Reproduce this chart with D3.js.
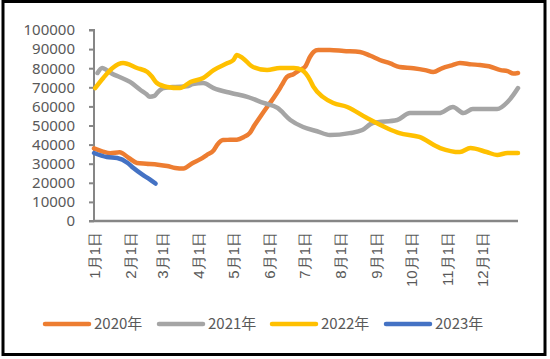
<!DOCTYPE html>
<html><head><meta charset="utf-8">
<script src="https://cdn.jsdelivr.net/npm/d3@7/dist/d3.min.js"></script>
<style>
html,body{margin:0;padding:0;background:#fff;}
svg{display:block;font-family:"Noto Sans CJK SC","Noto Sans",sans-serif;}
</style></head>
<body><svg id="c" width="550" height="359"></svg>
<script>
// Tick labels
const monthLabels = ["1月1日","2月1日","3月1日","4月1日","5月1日","6月1日","7月1日","8月1日","9月1日","10月1日","11月1日","12月1日"];
const monthStartDays = [0,31,59,90,120,151,181,212,243,273,304,334];
const yTicks = [0,10000,20000,30000,40000,50000,60000,70000,80000,90000,100000];
const seriesNames = ["2020年","2021年","2022年","2023年"];
const seriesColors = ["#ED7D31","#A5A5A5","#FFC000","#4472C4"];

// Series: day of year and value
const days2020 = [0,7,14,22,30,37,45,55,63,70,77,85,92,97,103,106,111,117,123,129,134,138,143,149,153,158,162,166,172,177,182,186,189,193,203,215,229,238,246,255,263,275,285,292,300,308,315,325,332,340,350,356,361,365];
const vals2020 = [38000,36500,35500,36000,33000,30400,30000,29500,28800,27800,27500,30400,32500,34500,37000,39800,42400,42500,42600,44000,46000,50000,54500,59700,63000,67500,71500,75400,77000,79000,81000,86000,88500,89500,89500,89000,88500,86500,84300,82500,80600,80000,79000,78000,80100,81500,82700,82000,81700,81000,79000,78500,77200,77500];

const days2021 = [3,7,11,16,22,31,40,45,48,52,55,60,70,80,85,94,103,118,132,146,158,169,180,192,203,220,231,240,261,272,297,309,318,326,339,347,356,361,365];
const vals2021 = [77500,80100,79000,77000,75400,72800,68600,66500,65000,65500,67500,69600,70200,70500,71700,72300,69600,67000,65000,61800,59200,52900,49200,47000,45000,46000,47600,51300,52900,56500,56500,59700,56500,58600,58600,58600,62300,66000,69600];

const days2022 = [1,8,16,25,37,46,50,54,63,74,83,94,103,115,120,123,128,137,149,160,172,179,186,189,197,206,218,235,252,263,280,298,315,324,338,347,356,365];
const vals2022 = [69600,74900,80100,82700,80100,78000,75500,72300,70200,69600,72800,74900,79000,82700,84300,86900,85300,80600,79000,80100,80100,79000,73800,70200,65000,61800,59700,53900,48700,46000,44000,38200,36100,38200,36100,34600,35600,35600];

const days2023 = [0,11,20,29,34,42,48,53];
const vals2023 = [35600,33500,33000,30400,27700,24100,21800,19600];

const allDays = [days2020,days2021,days2022,days2023];
const allVals = [vals2020,vals2021,vals2022,vals2023];

const svg = d3.select("#c");
const textColor = "#595959";
const axisColor = "#868686";

// frame
svg.append("rect").attr("x",3).attr("y",1.5).attr("width",542).attr("height",353)
  .attr("fill","#fff").attr("stroke","#000").attr("stroke-width",3);

const x = d3.scaleLinear().domain([0,365]).range([94,518]);
const y = d3.scaleLinear().domain([0,100000]).range([221,30]);

// y axis
const yAxis = d3.axisLeft(y).tickValues(yTicks).tickSize(5).tickPadding(14).tickFormat(d3.format("d"));
const gy = svg.append("g").attr("transform","translate(94,0)").call(yAxis);
gy.select(".domain").attr("stroke",axisColor).attr("stroke-width",2).attr("d","M-5,30H0V221H-5");
gy.selectAll(".tick line").attr("stroke",axisColor).attr("stroke-width",2);
gy.selectAll(".tick text").attr("fill",textColor).attr("font-size",15)
  .attr("font-family","'Noto Sans','Noto Sans CJK SC',sans-serif");

// x axis
const xAxis = d3.axisBottom(x).tickValues(monthStartDays).tickSize(0).tickPadding(0)
  .tickFormat((d,i)=>monthLabels[i]);
const gx = svg.append("g").attr("transform","translate(0,221)").call(xAxis);
gx.select(".domain").attr("stroke",axisColor).attr("stroke-width",2.5).attr("d","M94,0H518");
gx.selectAll(".tick text").attr("fill",textColor).attr("font-size",15)
  .attr("text-anchor","end").attr("dy","0.35em")
  .attr("transform","translate(0,11) rotate(-90)").attr("y",0).attr("x",0);

// lines
const line = d3.line().x(d=>x(d[0])).y(d=>y(d[1])).curve(d3.curveMonotoneX);
allDays.forEach((ds,i)=>{
  const pts = ds.map((d,j)=>[d,allVals[i][j]]);
  svg.append("path").datum(pts).attr("d",line).attr("fill","none")
    .attr("stroke",seriesColors[i]).attr("stroke-width",4.5)
    .attr("stroke-linejoin","round").attr("stroke-linecap","round");
});

// legend
const legX = [43,157,270,384];
const lg = svg.append("g");
seriesNames.forEach((n,i)=>{
  lg.append("line").attr("x1",legX[i]+2).attr("x2",legX[i]+46).attr("y1",324).attr("y2",324)
    .attr("stroke",seriesColors[i]).attr("stroke-width",4.5).attr("stroke-linecap","round");
  lg.append("text").attr("x",legX[i]+51).attr("y",324).attr("dy","0.35em")
    .attr("fill",textColor).attr("font-size",15).text(n);
});
</script></body></html>
